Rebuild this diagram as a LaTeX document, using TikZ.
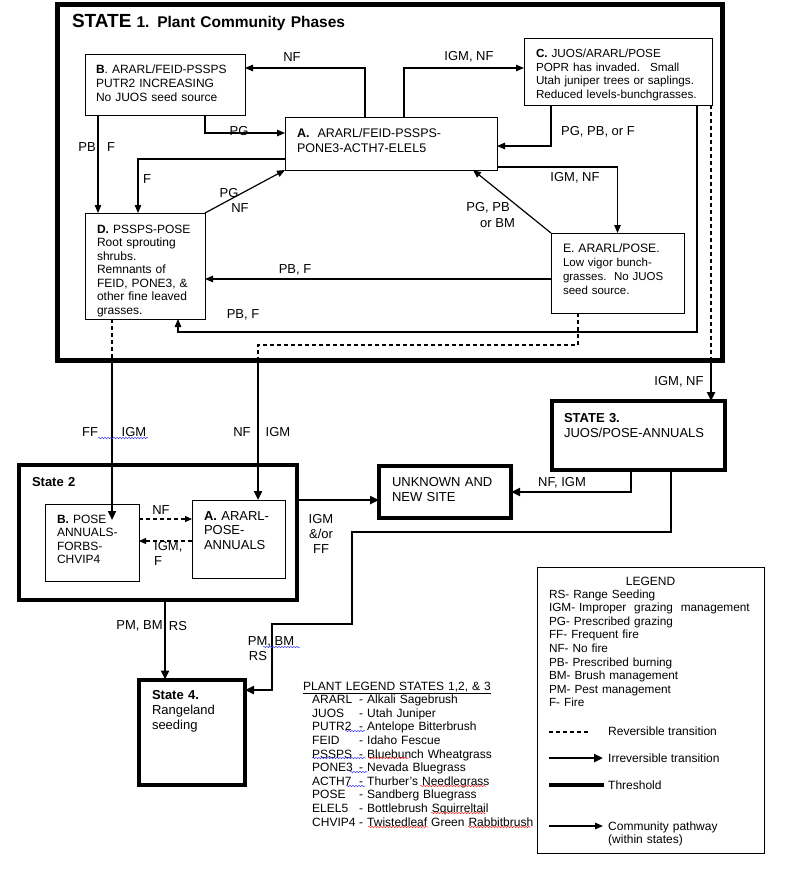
\documentclass[tikz,border=0pt]{standalone}
\usepackage{fontspec}
\setmainfont{Liberation Sans}
\usetikzlibrary{arrows.meta,positioning,decorations.pathmorphing}

\newcommand\plant[2]{\hspace*{9pt}\makebox[47pt][l]{#1}- #2}

\tikzset{
  phase/.style={draw, line width=0.9pt, anchor=north west, align=left,
    inner xsep=12pt, inner ysep=0pt, outer sep=0pt,
    font=\fontsize{12}{13.6}\selectfont},
  statebox/.style={phase, line width=4pt, font=\fontsize{13}{15}\selectfont},
  pathway/.style={line width=1.2pt, -{Triangle[length=8pt,width=6.5pt]}},
  transition/.style={line width=2.4pt, -{Triangle[length=9pt,width=8pt]}},
  reversible/.style={line width=1.1pt, dash pattern=on 4pt off 3pt},
  lbl/.style={inner sep=0pt, font=\fontsize{13}{15}\selectfont},
  legtxt/.style={anchor=base west, inner sep=0pt, font=\fontsize{12}{13.6}\selectfont},
  spell/.style={decorate, decoration={snake, amplitude=0.7pt, segment length=3pt}, line width=0.5pt}
}

\begin{document}
\begin{tikzpicture}[x=1pt, y=-1pt]
\useasboundingbox (0,0) rectangle (800,883);

\node[statebox, line width=5pt, inner xsep=14.5pt, text width=636pt, text height=23pt, text depth=332pt,
  font=\fontsize{15.5}{18}\selectfont\bfseries] (S1) at (57.5,5)
  {{\fontsize{19}{20}\selectfont STATE} 1. Plant Community Phases};

\node[phase, inner xsep=11pt, text width=138pt, text height=20pt, text depth=41pt] (B) at (85,54)
  {\textbf{B}. ARARL/FEID-PSSPS\\PUTR2 INCREASING\\No JUOS seed source};
\node[phase, text width=188pt, text height=20pt, text depth=33pt, font=\fontsize{12.5}{15}\selectfont] (A) at (285,117)
  {\textbf{A.}\hspace{8pt}ARARL/FEID-PSSPS-\\PONE3-ACTH7-ELEL5};
\node[phase, text width=164pt, text height=19pt, text depth=48pt, font=\fontsize{11.7}{14}\selectfont] (C) at (524,38)
  {\textbf{C.} JUOS/ARARL/POSE\\POPR has invaded.\hspace{10pt}Small\\Utah juniper trees or saplings.\\Reduced levels-bunchgrasses.};
\node[phase, text width=96pt, text height=20pt, text depth=86pt, font=\fontsize{12}{13.5}\selectfont] (D) at (85,213)
  {\textbf{D.} PSSPS-POSE\\Root sprouting\\shrubs.\\Remnants of\\FEID, PONE3, \&\\other fine leaved\\grasses.};
\node[phase, text width=109pt, text height=19pt, text depth=61pt, font=\fontsize{11.5}{14}\selectfont] (E) at (551,233)
  {{\fontsize{12.2}{14}\selectfont E. ARARL/POSE.}\\Low vigor bunch-\\grasses.\ \ No JUOS\\seed source.};

\node[statebox, inner xsep=13.5pt, text width=251.5pt, text height=21pt, text depth=114pt] (S2) at (18.5,465)
  {\textbf{State 2}};
\node[phase, text width=70pt, text height=19pt, text depth=58pt, font=\fontsize{12}{13.5}\selectfont] (S2B) at (45,504)
  {\textbf{B.} POSE\\ANNUALS-\\FORBS-\\CHVIP4};
\node[phase, text width=69pt, text height=20pt, text depth=58pt, font=\fontsize{13}{14.5}\selectfont] (S2A) at (192,500)
  {\textbf{A.} ARARL-\\POSE-\\ANNUALS};
\node[statebox, inner xsep=13pt, text width=106pt, text height=20pt, text depth=32pt] (U) at (379,466)
  {UNKNOWN AND\\NEW SITE};
\node[statebox, inner xsep=12.5pt, text width=148.5pt, text height=21pt, text depth=48pt] (S3) at (551.5,401)
  {\textbf{STATE 3.}\\JUOS/POSE-ANNUALS};
\node[statebox, inner xsep=13pt, text width=80pt, text height=19.5pt, text depth=86pt] (S4) at (139,679.5)
  {\textbf{State 4.}\\Rangeland\\seeding};

\draw[pathway] (A.north -| 365,0) |- (B.east |- 0,68);
\draw[pathway] (A.north -| 404,0) |- (C.west |- 0,68);
\draw[pathway] (B.south -| 205,0) |- (A.west |- 0,133);
\draw[pathway] (C.south -| 551,0) |- (A.east |- 0,146);
\draw[pathway] (A.east |- 0,167) -| (E.north);
\draw[pathway] (E.north west) -- (A.south -| 473,0);
\draw[pathway] (A.west |- 0,159) -| (D.north -| 138,0);
\draw[pathway] (B.south -| 98,0) -- (D.north -| 98,0);
\draw[pathway] (D.north east) -- (A.south west);
\draw[pathway] (E.west |- 0,279) -- (D.east |- 0,279);
\draw[pathway] (C.south -| 697,0) -- (697,332) -| (D.south -| 178,0);

\node[lbl] (lNFab) at (292,57) {NF};
\node[lbl] (lIGMac) at (469,57) {IGM, NF};
\node[lbl] (lPGba) at (239,131) {PG};
\node[lbl] (lPGca) at (598,132) {PG, PB, or F};
\node[lbl] (lIGMae) at (575,178) {IGM, NF};
\node[lbl] (lPGea) at (488,208) {PG, PB};
\node[lbl] (lBMea) at (497.5,223) {or BM};
\node[lbl] (lFad) at (147,179) {F};
\node[lbl] (lPBbd) at (87,147) {PB};
\node[lbl] (lFbd) at (111,147) {F};
\node[lbl] (lPGda) at (229,193) {PG};
\node[lbl] (lNFda) at (240,208) {NF};
\node[lbl] (lPBed) at (295,270) {PB, F};
\node[lbl] (lPBcd) at (243,315) {PB, F};

\coordinate (s2bin) at (112,520);
\draw[reversible] (C.south -| 711,0) -- (S1.south -| 711,0);
\draw[transition] (S1.south -| 711,0) -- (S3.north -| 711,0);
\draw[reversible] (E.south -| 578,0) -- (578,345) -| (S1.south -| 258,0);
\draw[transition] (S1.south -| 258,0) -- (S2A.north -| 258,0);
\draw[reversible] (D.south -| 112,0) -- (S1.south -| 112,0);
\draw[transition] (S1.south -| 112,0) -- (s2bin);
\draw[reversible, -{Triangle[length=7pt,width=6pt]}] (S2B.east |- 0,519) -- (S2A.west |- 0,519);
\draw[reversible, -{Triangle[length=7pt,width=6pt]}] (S2A.west |- 0,541) -- (S2B.east |- 0,541);
\draw[transition] (S2.east |- 0,500) -- (U.west |- 0,500);
\draw[transition] (S3.south -| 631,0) |- (U.east);
\draw[transition] (S3.south -| 671,0) |- (352,532) |- (272,624) |- (S4.east |- 0,690);
\draw[transition] (S2.south -| 165,0) -- (S4.north -| 165,0);

\node[lbl] (lIGMs3) at (679,382) {IGM, NF};
\node[lbl] (lFF) at (90,432) {FF};
\node[lbl] (lIGMb) at (134,432) {IGM};
\node[lbl] (lNFa) at (242,432) {NF};
\node[lbl] (lIGMa) at (278,432) {IGM};
\node[lbl] (lNFs2) at (161,510) {NF};
\node[lbl, align=left, anchor=west] (lIGMs2) at (154,553) {IGM,\\F};
\node[lbl, align=center] (lIGMu) at (321,534) {IGM\\\&/or\\FF};
\node[lbl] (lNFu) at (562,483) {NF, IGM};
\node[lbl] (lPMa) at (139.5,626) {PM, BM};
\node[lbl] (lRSa) at (178,626) {RS};
\node[lbl] (lPMb) at (271,642) {PM, BM};
\node[lbl] (lRSb) at (258,656) {RS};

\node[legtxt, text width=260pt, align=left] (plants) at (303,690)
  {\underline{PLANT LEGEND STATES 1,2, \& 3}\\
   \plant{ARARL}{Alkali Sagebrush}\\
   \plant{JUOS}{Utah Juniper}\\
   \plant{PUTR2}{Antelope Bitterbrush}\\
   \plant{FEID}{Idaho Fescue}\\
   \plant{PSSPS}{Bluebunch Wheatgrass}\\
   \plant{PONE3}{Nevada Bluegrass}\\
   \plant{ACTH7}{Thurber's Needlegrass}\\
   \plant{POSE}{Sandberg Bluegrass}\\
   \plant{ELEL5}{Bottlebrush Squirreltail}\\
   \plant{CHVIP4}{Twistedleaf Green Rabbitbrush}};

\foreach \xa/\xb/\yy in {98/148/438, 263/300/647, 345/365/731, 312/365/758, 350/367/772, 346/365/786}
  \draw[spell, blue!75] (\xa,\yy) -- (\xb,\yy);
\foreach \xa/\xb/\yy in {368/408/758, 420/486/786, 431/486/813, 368/428/827, 468/531/827}
  \draw[spell, red!80] (\xa,\yy) -- (\xb,\yy);

\node[phase, text width=203pt, text height=31pt, text depth=255pt, font=\fontsize{11.8}{13.6}\selectfont] (legend) at (537,567)
  {RS- Range Seeding\\IGM- Improper\ \ grazing\ \ management\\PG- Prescribed grazing\\FF- Frequent fire\\NF- No fire\\
   PB- Prescribed burning\\BM- Brush management\\PM- Pest management\\F- Fire};
\node[font=\fontsize{12}{14}\selectfont, inner sep=0pt] (legtitle) at (legend.north |- 0,581) {LEGEND};

\coordinate (lgrev) at (549,732);
\coordinate (lgirr) at (549,758);
\coordinate (lgthr) at (549,785);
\coordinate (lgcom) at (549,826);
\draw[reversible] (lgrev) -- ++(41,0);
\draw[transition] (lgirr) -- ++(54,0);
\draw[line width=4.5pt] (lgthr) -- ++(55,0);
\draw[pathway] (lgcom) -- ++(54,0);
\node[legtxt] (trev) at (608,735) {Reversible transition};
\node[legtxt] (tirr) at (608,762) {Irreversible transition};
\node[legtxt] (tthr) at (608,789) {Threshold};
\node[legtxt, text width=140pt, align=left] (tcom) at (608,830) {Community pathway\\(within states)};
\end{tikzpicture}
\end{document}
